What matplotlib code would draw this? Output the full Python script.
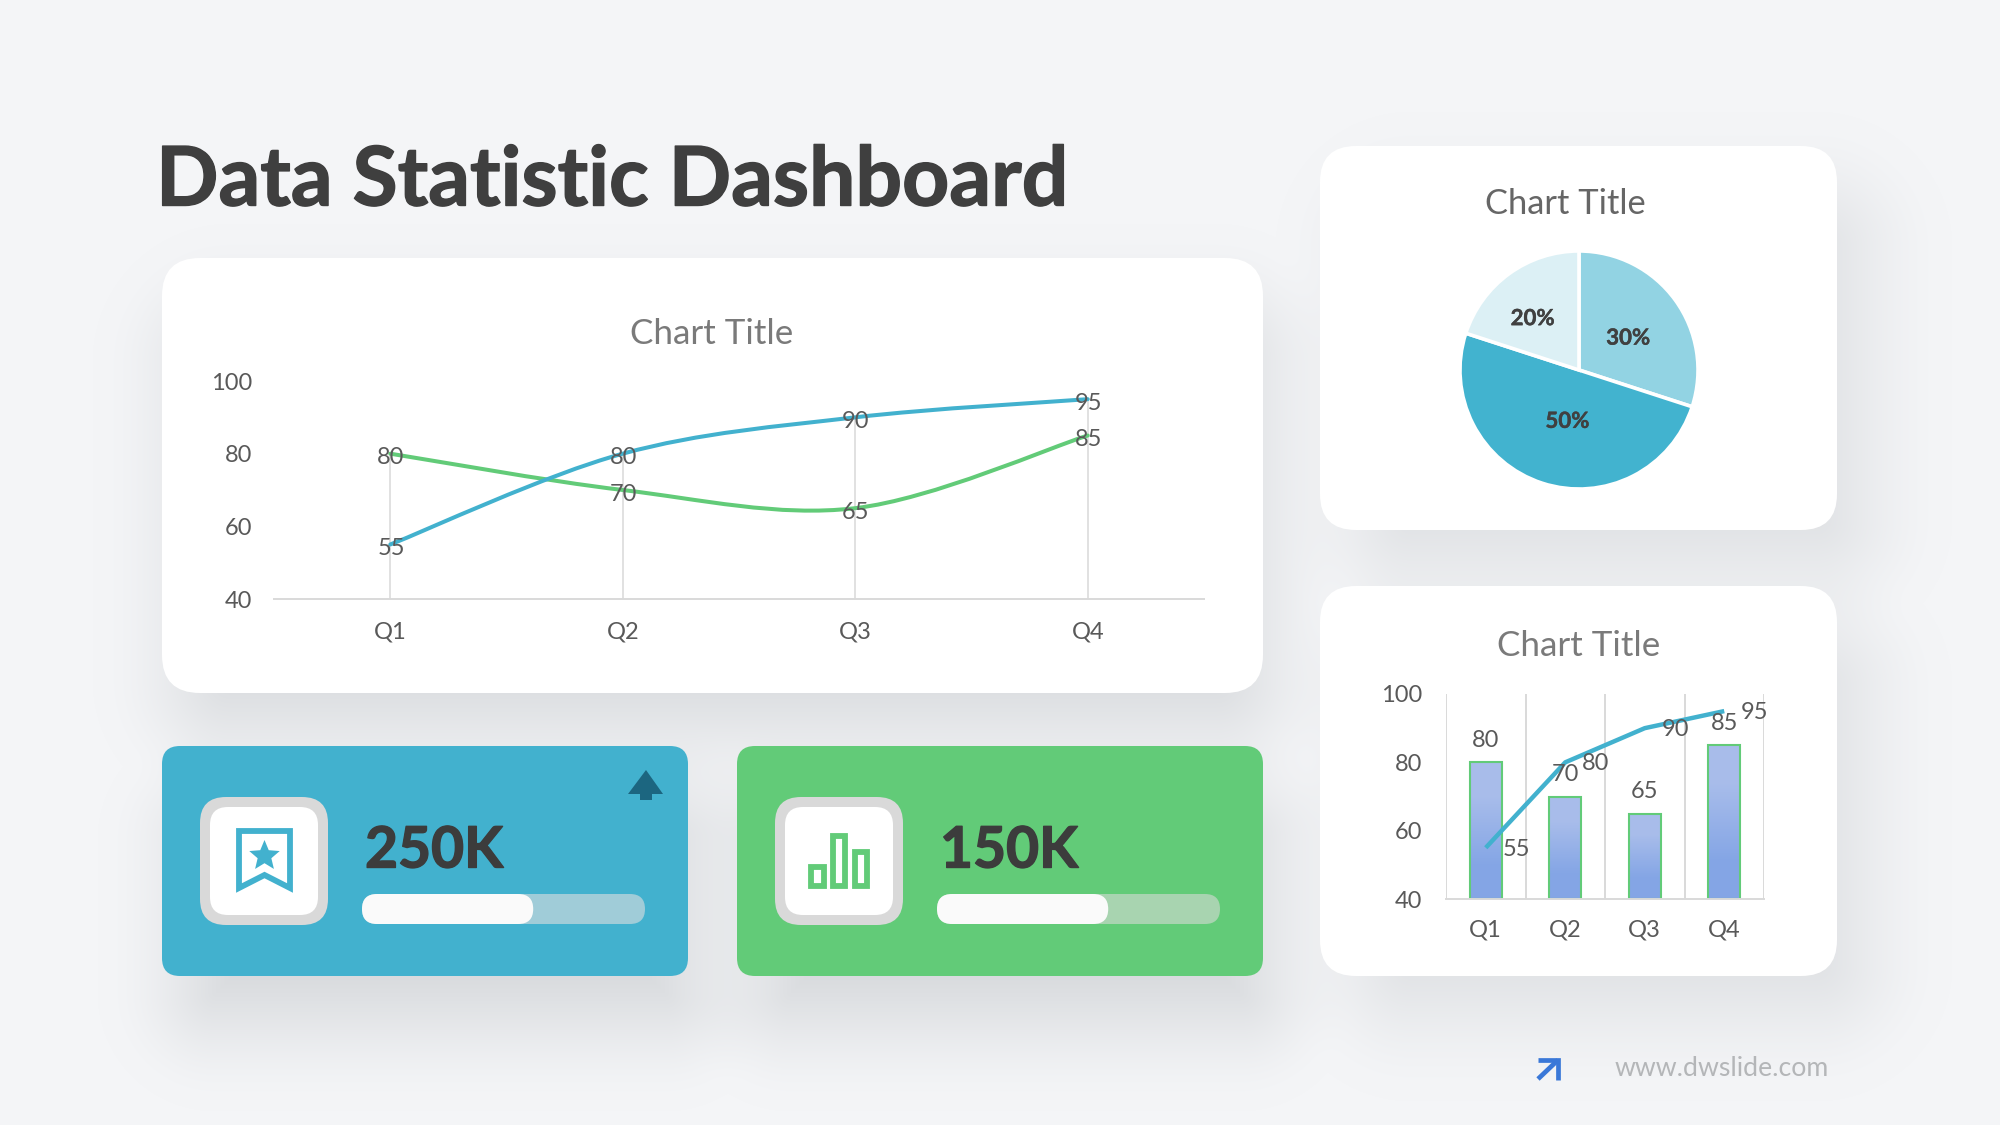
#!/usr/bin/env python3
"""Data statistic dashboard slide: line, pie and combo charts plus two KPI cards."""

import numpy as np
import matplotlib
matplotlib.use('Agg')
import matplotlib.pyplot as plt
import matplotlib.patheffects as pe
from matplotlib.patches import FancyBboxPatch, Polygon, Rectangle
from matplotlib.path import Path
from matplotlib.patches import PathPatch

plt.rcParams['font.family'] = ['Lato', 'DejaVu Sans']

QUARTERS = ['Q1', 'Q2', 'Q3', 'Q4']
SERIES_BLUE = [55, 80, 90, 95]
SERIES_GREEN = [80, 70, 65, 85]
BAR_VALUES = [80, 70, 65, 85]
LINE_VALUES = [55, 80, 90, 95]
PIE_VALUES = [30, 50, 20]
Y_TICKS = [40, 60, 80, 100]
KPI_LABELS = ['250K', '150K']
KPI_PROGRESS = [0.605, 0.605]

W, H = 2000, 1125
BG = '#f4f5f7'
BLUE = '#42b1ce'
GREEN = '#62cb78'
DARK = '#404040'
TICK_GREY = '#595959'
TITLE_GREY = '#7a7a7a'
GRID = '#d9d9d9'

# x0, y0, x1, y1, radius in pixels
CARD_LINE = (162, 258, 1263, 693, 38)
CARD_PIE = (1320, 146, 1837, 530, 36)
CARD_COMBO = (1320, 586, 1837, 976, 36)
CARD_KPI_A = (162, 746, 688, 976, 18)
CARD_KPI_B = (737, 746, 1263, 976, 18)


def rounded_sdf(xx, yy, box):
    x0, y0, x1, y1, r = box
    cx, cy = (x0 + x1) / 2, (y0 + y1) / 2
    qx = np.abs(xx - cx) - (x1 - x0) / 2 + r
    qy = np.abs(yy - cy) - (y1 - y0) / 2 + r
    return np.hypot(np.maximum(qx, 0), np.maximum(qy, 0)) + np.minimum(np.maximum(qx, qy), 0) - r


def background():
    yy, xx = np.mgrid[0:H, 0:W]
    base = np.array(matplotlib.colors.to_rgb(BG))
    img = np.ones((H, W, 3)) * base
    shadow_rgb = np.array([0.62, 0.64, 0.66])
    for box, dy, dx, blur, strength in [
        (CARD_LINE, 45, 10, 100, 0.38),
        (CARD_PIE, 45, 35, 100, 0.30),
        (CARD_COMBO, 45, 35, 100, 0.30),
        (CARD_KPI_A, 55, 15, 100, 0.42),
        (CARD_KPI_B, 55, 15, 100, 0.42),
    ]:
        sx0, sy0, sx1, sy1, r = box
        inset = (sx0 + dx + 20, sy0 + dy + 20, sx1 + dx - 20, sy1 + dy - 20, r)
        t = np.clip(0.5 - rounded_sdf(xx, yy, inset) / (2 * blur), 0, 1)
        a = strength * t * t * (3 - 2 * t)
        img = img * (1 - a[..., None]) + shadow_rgb * a[..., None]
    return img


def px_axes(fig, x0, y0, x1, y1):
    """Axes placed by pixel box (y measured from the top of the slide)."""
    ax = fig.add_axes([x0 / W, 1 - y1 / H, (x1 - x0) / W, (y1 - y0) / H])
    ax.patch.set_alpha(0)
    return ax


def card(ax, box, color='white'):
    x0, y0, x1, y1, r = box
    ax.add_patch(FancyBboxPatch((x0, y0), x1 - x0, y1 - y0,
                                boxstyle=f'round,pad=0,rounding_size={r}',
                                fc=color, ec='none'))


def pill(ax, x0, y0, x1, y1, r, color, z=3):
    ax.add_patch(FancyBboxPatch((x0, y0), x1 - x0, y1 - y0,
                                boxstyle=f'round,pad=0,rounding_size={r}',
                                fc=color, ec='none', zorder=z))


def star(cx, cy, outer, inner):
    angles = np.deg2rad(np.arange(10) * 36 - 90)
    radii = np.where(np.arange(10) % 2 == 0, outer, inner)
    return np.column_stack([cx + radii * np.cos(angles), cy + radii * np.sin(angles)])


def kpi_card(ax, box, color, track, label, progress):
    card(ax, box, color)
    ox = box[0]
    pill(ax, ox + 38, 797, ox + 166, 925, 26, '#d9d9d9')
    pill(ax, ox + 48, 807, ox + 156, 915, 18, 'white', z=4)
    ax.text(ox + 203, 851, label, fontsize=41, fontweight='bold', color='#3c3c3c',
            ha='left', va='center', zorder=5,
            path_effects=[pe.withStroke(linewidth=1.0, foreground='#3c3c3c')])
    bar_x0, bar_x1 = ox + 200, ox + 483
    pill(ax, bar_x0, 894, bar_x1, 924, 15, track)
    pill(ax, bar_x0, 894, bar_x0 + (bar_x1 - bar_x0) * progress, 924, 15, '#fafafa', z=4)


def smooth_path(xs, ys):
    """Catmull-Rom style bezier through the points, like an Office smoothed line."""
    pts = np.column_stack([xs, ys]).astype(float)
    verts = [pts[0]]
    codes = [Path.MOVETO]
    for i in range(len(pts) - 1):
        p0 = pts[max(i - 1, 0)]
        p1, p2 = pts[i], pts[i + 1]
        p3 = pts[min(i + 2, len(pts) - 1)]
        verts += [p1 + (p2 - p0) / 6, p2 - (p3 - p1) / 6, p2]
        codes += [Path.CURVE4] * 3
    return Path(verts, codes)


def style_axis(ax):
    for side in ('top', 'left', 'right'):
        ax.spines[side].set_visible(False)
    ax.spines['bottom'].set_color(GRID)
    ax.spines['bottom'].set_linewidth(1.4)
    ax.set_ylim(40, 100)
    ax.set_yticks(Y_TICKS)
    ax.set_xticks(range(len(QUARTERS)))
    ax.set_xticklabels(QUARTERS)
    ax.set_xlim(-0.5, 3.5)


def draw_line_chart(fig):
    ax = px_axes(fig, 274, 381, 1204, 599)
    style_axis(ax)
    ax.tick_params(axis='both', length=0, labelsize=17, labelcolor=TICK_GREY)
    ax.tick_params(axis='y', pad=16)
    ax.tick_params(axis='x', pad=16)
    xs = np.arange(len(QUARTERS))
    ax.vlines(xs, 40, np.maximum(SERIES_BLUE, SERIES_GREEN), color=GRID, lw=1.1, zorder=1)
    for vals, col in [(SERIES_GREEN, GREEN), (SERIES_BLUE, BLUE)]:
        ax.add_patch(PathPatch(smooth_path(xs, vals), fc='none', ec=col, lw=2.9,
                               capstyle='round', zorder=2))
    for vals in (SERIES_GREEN, SERIES_BLUE):
        for x, v in zip(xs, vals):
            ax.annotate(str(v), (x, v), xytext=(0.5, -3), textcoords='offset points',
                        ha='center', va='center', fontsize=17, color=TICK_GREY, zorder=3)


def draw_pie_chart(fig):
    cx, cy, r = 1579, 370, 119
    ax = px_axes(fig, cx - r - 3, cy - r - 3, cx + r + 3, cy + r + 3)
    colors = ['#92d3e3', '#42b3cf', '#dcf0f5']
    wedges, _ = ax.pie(PIE_VALUES, colors=colors, startangle=90, counterclock=False,
                       radius=1.0, wedgeprops={'edgecolor': 'white', 'linewidth': 2.6})
    ax.set_xlim(-1.025, 1.025)
    ax.set_ylim(-1.025, 1.025)
    nudges = [(0, -2.75), (2.75, -2.75), (-3.2, -4.6)]
    for wedge, val, dist, nudge in zip(wedges, PIE_VALUES, [0.51, 0.42, 0.60], nudges):
        ang = np.deg2rad((wedge.theta1 + wedge.theta2) / 2)
        ax.annotate(f'{val}%', (dist * np.cos(ang), dist * np.sin(ang)), xytext=nudge,
                    textcoords='offset points', ha='center', va='center',
                    fontsize=16, fontweight='bold', color=DARK,
                    path_effects=[pe.withStroke(linewidth=0.3, foreground=DARK)])


def draw_combo_chart(fig):
    ax = px_axes(fig, 1446, 694, 1764, 899)
    style_axis(ax)
    ax.tick_params(axis='both', which='both', length=0, labelsize=17, labelcolor=TICK_GREY)
    ax.tick_params(axis='y', pad=17)
    ax.tick_params(axis='x', pad=15)
    ax.set_xticks(np.arange(-0.5, 4), minor=True)
    ax.grid(True, which='minor', axis='x', color=GRID, lw=1.4, zorder=0)
    ax.set_axisbelow(True)
    xs = np.arange(len(QUARTERS))
    width = 0.40
    ramp = np.array([[[0.66, 0.74, 0.92]], [[0.52, 0.65, 0.90]]])
    for x, v in zip(xs, BAR_VALUES):
        ax.imshow(ramp, extent=(x - width / 2, x + width / 2, 40, v), aspect='auto',
                  interpolation='bilinear', zorder=1.5)
    ax.set_xlim(-0.5, 3.5)
    ax.set_ylim(40, 100)
    ax.bar(xs, np.array(BAR_VALUES) - 40, bottom=40, width=width, fc='none', ec=GREEN, lw=1.5, zorder=2)
    ax.plot(xs, LINE_VALUES, color=BLUE, lw=3.2, zorder=3, solid_capstyle='butt')
    for x, v in zip(xs, BAR_VALUES):
        ax.annotate(str(v), (x, v), xytext=(0, 16), textcoords='offset points',
                    ha='center', va='center', fontsize=17, color=TICK_GREY, zorder=4)
    for x, v in zip(xs, LINE_VALUES):
        ax.annotate(str(v), (x, v), xytext=(22, -1), textcoords='offset points',
                    ha='center', va='center', fontsize=17, color=TICK_GREY, zorder=4)


def main():
    fig = plt.figure(figsize=(W / 100, H / 100), dpi=100)

    deco = fig.add_axes([0, 0, 1, 1])
    deco.imshow(background(), extent=(0, W, H, 0), aspect='auto', interpolation='nearest')
    deco.set_xlim(0, W)
    deco.set_ylim(H, 0)
    deco.axis('off')

    for box in (CARD_LINE, CARD_PIE, CARD_COMBO):
        card(deco, box)

    deco.text(156, 182, 'Data Statistic Dashboard', fontsize=59.2, fontweight='bold',
              color='#3f3f3f', ha='left', va='center',
              path_effects=[pe.withStroke(linewidth=1.0, foreground='#3f3f3f')])
    deco.text(712, 334, 'Chart Title', fontsize=25.2, color=TITLE_GREY, ha='center', va='center')
    deco.text(1565, 204, 'Chart Title', fontsize=24.8, color='#666666', ha='center', va='center')
    deco.text(1579, 646, 'Chart Title', fontsize=25.2, color=TITLE_GREY, ha='center', va='center')

    kpi_card(deco, CARD_KPI_A, BLUE, '#a0ccd8', KPI_LABELS[0], KPI_PROGRESS[0])
    kpi_card(deco, CARD_KPI_B, GREEN, '#a8d4b0', KPI_LABELS[1], KPI_PROGRESS[1])

    # up arrow on the blue card
    deco.add_patch(Polygon([(646, 770), (663, 794), (652, 794), (652, 800), (640, 800),
                            (640, 794), (628, 794)], fc='#1c6680', ec='none', zorder=5))

    # bookmark icon
    deco.add_patch(Polygon([(239, 831), (290, 831), (290, 888), (264.5, 875), (239, 888)],
                           fc='none', ec=BLUE, lw=4.2, joinstyle='miter', zorder=5))
    deco.add_patch(Polygon(star(264.5, 856, 16, 7.2), fc=BLUE, ec='none', zorder=5))

    # small bar chart icon
    for x0, x1, top in [(808, 827, 864), (830, 848, 833), (852, 870, 849)]:
        deco.add_patch(Rectangle((x0 + 3, top + 3), x1 - x0 - 6, 889 - top - 6,
                                 fc='white', ec=GREEN, lw=4.2, joinstyle='miter', zorder=5))

    # footer
    deco.plot([1538, 1558], [1079, 1060], color='#3a78d8', lw=3.4, solid_capstyle='butt', zorder=5)
    deco.plot([1538, 1558, 1558], [1060, 1060, 1080], color='#3a78d8', lw=3.4,
              solid_joinstyle='miter', solid_capstyle='butt', zorder=5)
    deco.text(1615, 1069, 'www.dwslide.com', fontsize=19.2, color='#b4b6b8', ha='left', va='center')

    draw_line_chart(fig)
    draw_pie_chart(fig)
    draw_combo_chart(fig)

    fig.savefig('out.png', dpi=100)


if __name__ == '__main__':
    main()
